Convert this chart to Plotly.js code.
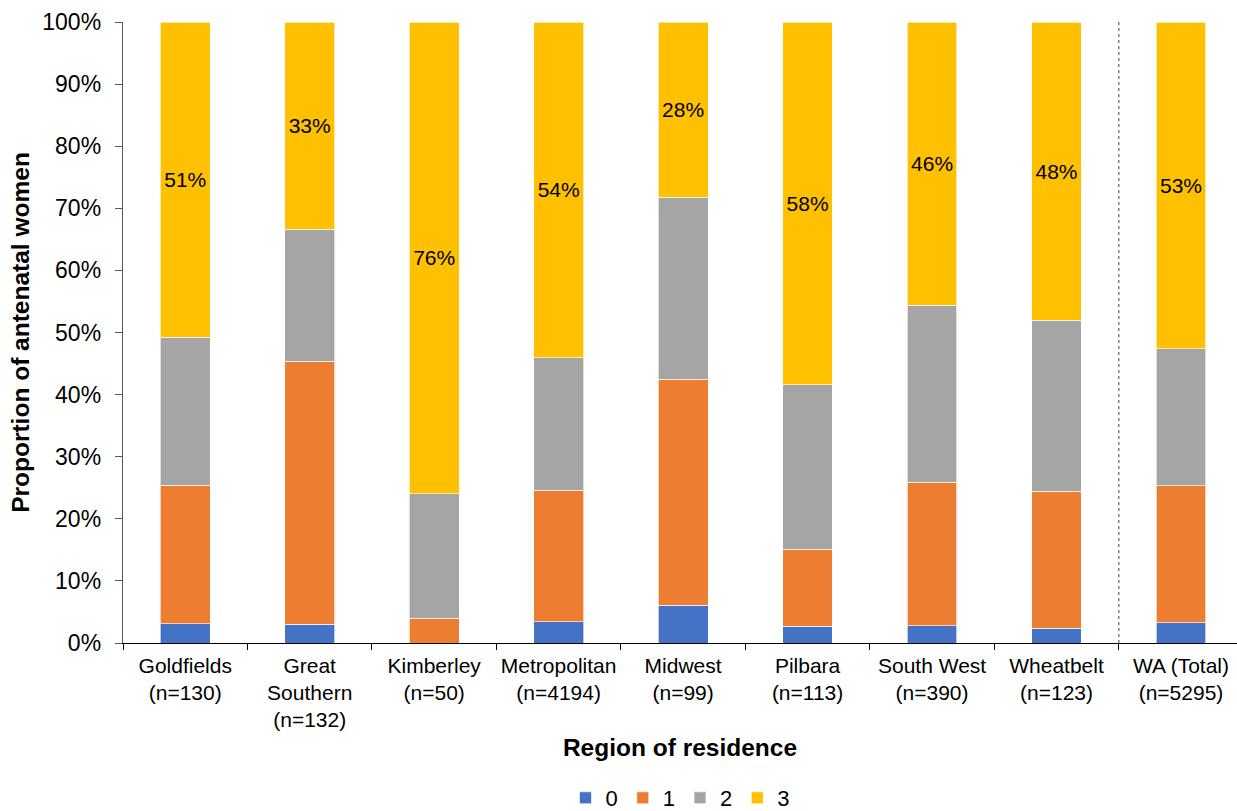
<!DOCTYPE html>
<html>
<head>
<meta charset="utf-8">
<script src="https://cdn.plot.ly/plotly-3.0.1.min.js"></script>
<style>
  html, body { margin: 0; padding: 0; background: #fff; overflow: hidden; }
  #chart { width: 1237px; height: 826px; }
</style>
</head>
<body>
<div id="chart"></div>
<script>
// Regions of residence (tick labels)
const regions = [
  "Goldfields<br>(n=130)",
  "Great<br>Southern<br>(n=132)",
  "Kimberley<br>(n=50)",
  "Metropolitan<br>(n=4194)",
  "Midwest<br>(n=99)",
  "Pilbara<br>(n=113)",
  "South West<br>(n=390)",
  "Wheatbelt<br>(n=123)",
  "WA (Total)<br>(n=5295)"
];

// Share of antenatal women (%) in each score group, per region
const score0 = [3.1, 3.0, 0.0, 3.4, 6.1, 2.7, 2.8, 2.4, 3.3];
const score1 = [22.3, 42.4, 4.0, 21.2, 36.4, 12.4, 23.1, 22.0, 22.0];
const score2 = [23.8, 21.2, 20.0, 21.3, 29.3, 26.5, 28.5, 27.6, 22.1];
const score3 = [50.8, 33.4, 76.0, 54.1, 28.2, 58.4, 45.6, 48.0, 52.6];

const seriesNames = ["0", "1", "2", "3"];
const colors = ["#4472C4", "#ED7D31", "#A5A5A5", "#FFC000"];
const FONT = "Arial, 'Liberation Sans', sans-serif";

function barTrace(values, i, withLabels) {
  const t = {
    type: "bar",
    name: seriesNames[i],
    x: regions,
    y: values,
    marker: { color: colors[i], line: { color: "rgba(255,255,255,0.8)", width: 0.8 } },
    hoverinfo: "y+name"
  };
  if (withLabels) {
    t.text = values.map(v => Math.round(v) + "%");
    t.textposition = "inside";
    t.insidetextanchor = "middle";
    t.textangle = 0;
    t.constraintext = "none";
    t.textfont = { family: FONT, size: 21, color: "#000" };
  } else {
    t.textposition = "none";
  }
  return t;
}

const data = [
  barTrace(score0, 0, false),
  barTrace(score1, 1, false),
  barTrace(score2, 2, false),
  barTrace(score3, 3, true)
];

const layout = {
  width: 1237,
  height: 826,
  margin: { l: 123, r: 0, t: 22, b: 183 },
  paper_bgcolor: "#fff",
  plot_bgcolor: "#fff",
  barmode: "stack",
  bargap: 0.6,
  font: { family: FONT, color: "#000" },
  showlegend: true,
  legend: {
    orientation: "h",
    x: 0.5, xanchor: "center",
    y: -0.2834, yanchor: "bottom",
    font: { family: FONT, size: 22, color: "#000" },
    itemwidth: 30,
    traceorder: "normal"
  },
  xaxis: {
    type: "category",
    range: [-0.5, 8.45],
    automargin: false,
    showline: true,
    linecolor: "#000",
    linewidth: 1.3,
    ticks: "outside",
    tickson: "boundaries",
    ticklen: 6,
    tickcolor: "#000",
    tickangle: 0,
    ticklabelstandoff: 3,
    tickfont: { family: FONT, size: 21, color: "#000" },
    showgrid: false,
    zeroline: false,
    title: {
      text: "<b>Region of residence</b>",
      font: { family: FONT, size: 24.5, color: "#000" },
      standoff: 8
    }
  },
  yaxis: {
    range: [0, 100],
    dtick: 10,
    ticksuffix: "%",
    automargin: false,
    showline: true,
    linecolor: "#595959",
    linewidth: 1.3,
    ticks: "outside",
    ticklen: 7,
    tickcolor: "#595959",
    ticklabelstandoff: 9,
    tickfont: { family: FONT, size: 23, color: "#000" },
    showgrid: false,
    zeroline: false,
    title: {
      text: "<b>Proportion of antenatal women</b>",
      font: { family: FONT, size: 24.5, color: "#000" },
      standoff: 5
    }
  },
  shapes: [
    {
      type: "line",
      xref: "x", yref: "y",
      x0: 7.5, x1: 7.5, y0: 0, y1: 100,
      line: { color: "#7F7F7F", width: 1.5, dash: "dot" }
    }
  ]
};

Plotly.newPlot("chart", data, layout, { displayModeBar: false, staticPlot: true });
</script>
</body>
</html>
